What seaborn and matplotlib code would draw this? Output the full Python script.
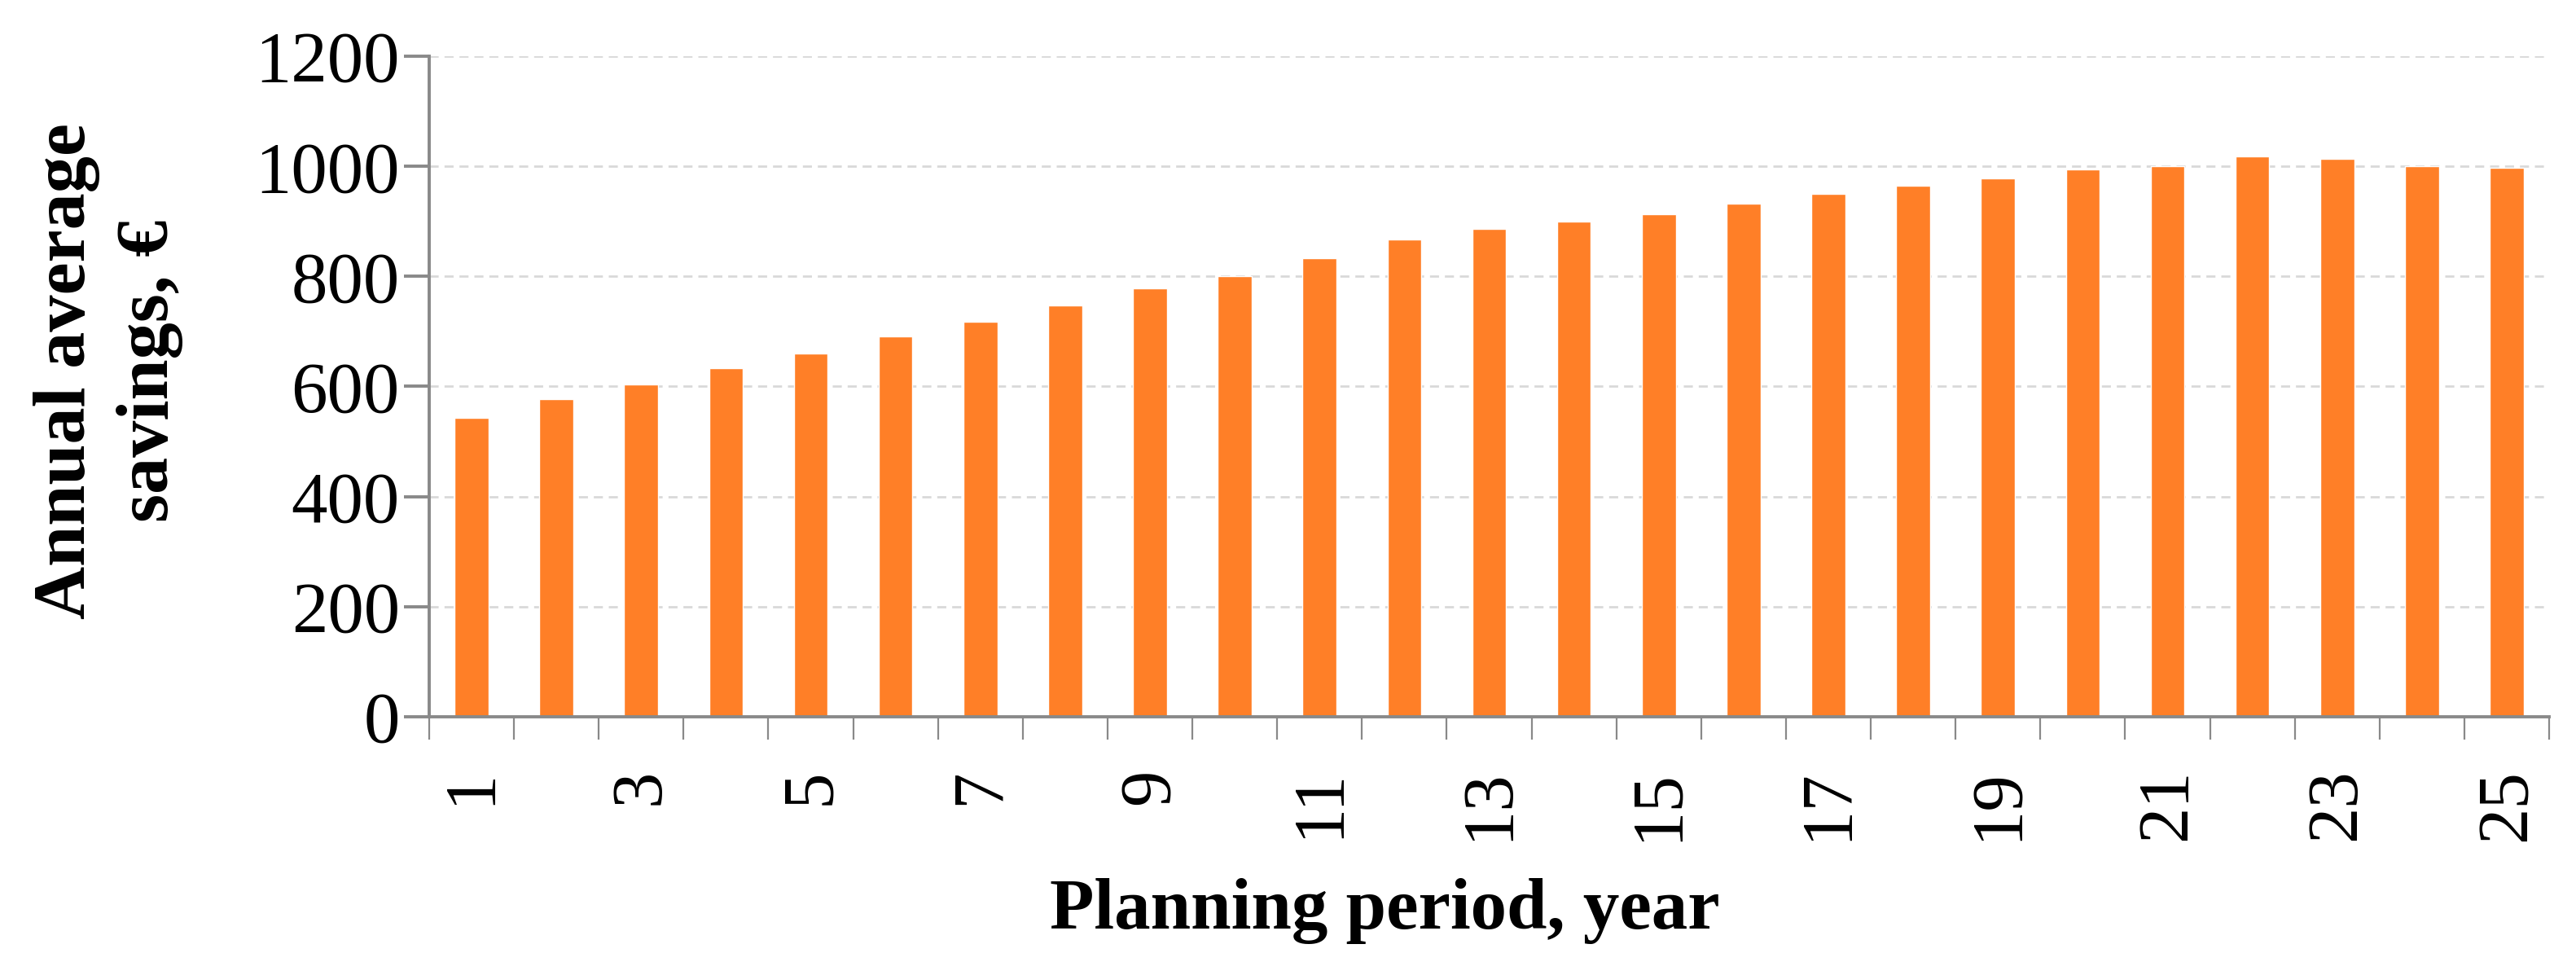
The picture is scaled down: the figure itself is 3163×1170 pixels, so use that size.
import matplotlib

matplotlib.use("Agg")
import matplotlib.pyplot as plt
import pandas as pd
import seaborn as sns
from matplotlib.ticker import FixedLocator

# Values
years = list(range(1, 26))
savings = [543, 577, 603, 633, 660, 691, 717, 747, 778, 800, 833, 867, 886,
           899, 913, 932, 950, 965, 978, 994, 1000, 1018, 1013, 1000, 997]
year_labels = [str(y) if y % 2 else "" for y in years]
y_ticks = [0, 200, 400, 600, 800, 1000, 1200]

BAR_COLOR = "#FF7F27"
AXIS_COLOR = "#898989"
GRID_COLOR = "#D9D9D9"

sns.set_style("ticks")
plt.rcParams["font.family"] = ["Liberation Serif", "DejaVu Serif"]
plt.rcParams["text.color"] = "black"
plt.rcParams["axes.labelcolor"] = "black"

df = pd.DataFrame({"year": [str(y) for y in years], "savings": savings})

fig = plt.figure(figsize=(31.63, 11.70), dpi=100)
ax = fig.add_axes([0.1666, 0.248, 0.8230, 0.693])
sns.barplot(data=df, x="year", y="savings", color=BAR_COLOR, width=0.4,
            saturation=1, ax=ax)

ax.set_xlim(-0.5, 24.5)
ax.set_ylim(0, 1200)
ax.set_yticks(y_ticks)
ax.yaxis.grid(True, color=GRID_COLOR, linestyle=(0, (4, 2.6)), linewidth=2)
ax.set_axisbelow(True)

for side in ("top", "right"):
    ax.spines[side].set_visible(False)
for side in ("left", "bottom"):
    ax.spines[side].set_color(AXIS_COLOR)
    ax.spines[side].set_linewidth(2.8)

# category labels under bars, tick marks between categories (Excel style)
ax.set_xticks(range(len(years)))
ax.set_xticklabels(year_labels, rotation=90)
ax.xaxis.set_minor_locator(FixedLocator([i - 0.5 for i in range(len(years) + 1)]))
ax.tick_params(axis="x", which="major", length=0, pad=46, labelsize=64,
               labelcolor="black")
ax.tick_params(axis="x", which="minor", length=20, width=1.6,
               color=AXIS_COLOR, direction="out")
ax.tick_params(axis="y", length=22, width=2.8, color=AXIS_COLOR,
               direction="out", pad=4, labelsize=64, labelcolor="black")

ax.set_xlabel("Planning period, year", fontsize=64, fontweight="bold")
ax.xaxis.set_label_coords(0.4506, -0.245)
ax.set_ylabel("Annual average\nsavings, €", fontsize=65, fontweight="bold",
              linespacing=1.32)
ax.yaxis.set_label_coords(-0.1160, 0.523)

fig.savefig("out.png", dpi=100)
plt.close(fig)
